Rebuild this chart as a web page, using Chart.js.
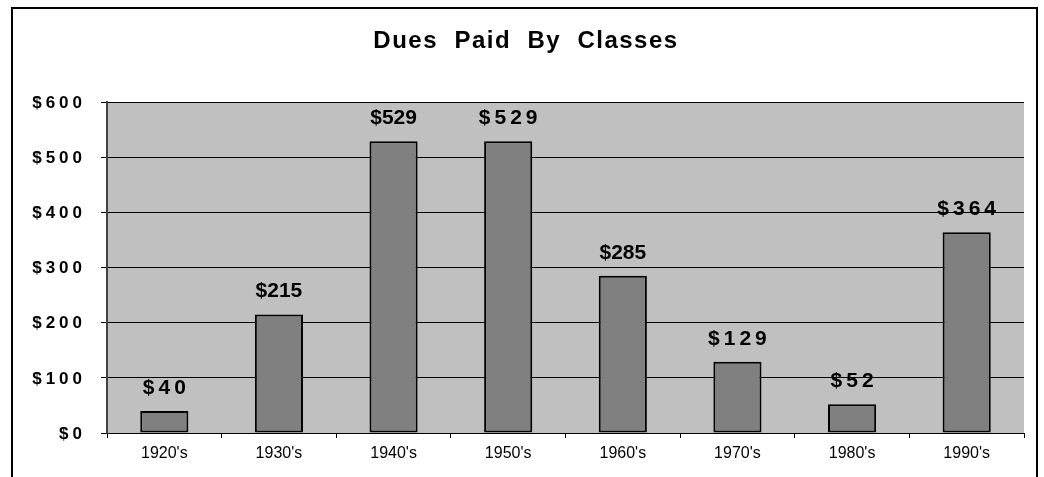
<!DOCTYPE html>
<html>
<head>
<meta charset="utf-8">
<title>Dues Paid By Classes</title>
<script src="https://cdn.jsdelivr.net/npm/chart.js@4"></script>
<style>
    body { margin: 0; background: #fff; }
    #wrap { width: 1044px; height: 477px; position: relative; }
</style>
</head>
<body>
<div id="wrap"><canvas id="duesChart"></canvas></div>
<script>
const decades = ["1920's", "1930's", "1940's", "1950's", "1960's", "1970's", "1980's", "1990's"];
const dues = [40, 215, 529, 529, 285, 129, 52, 364];
// which value labels are printed letter-spaced in the original
const spacedLabels = [true, false, false, true, false, true, true, true];
const chartTitle = 'Dues  Paid  By  Classes';

const FONT = '"Liberation Sans", Arial, sans-serif';

// Frame, plot background, title, y labels and value labels
const decorPlugin = {
    id: 'decor',
    beforeDraw: (chart) => {
        const { ctx, chartArea: { top, bottom, left, right } } = chart;
        ctx.save();
        ctx.fillStyle = '#c0c0c0';
        ctx.fillRect(left, top, right - left, bottom - top);
        ctx.restore();
    },
    afterDraw: (chart) => {
        const { ctx } = chart;
        ctx.save();
        // outer frame (bottom edge runs off the picture)
        ctx.strokeStyle = '#000';
        ctx.lineWidth = 2;
        ctx.beginPath();
        ctx.moveTo(12, 490);
        ctx.lineTo(12, 8);
        ctx.lineTo(1037, 8);
        ctx.lineTo(1037, 490);
        ctx.stroke();

        // title
        ctx.fillStyle = '#000';
        ctx.font = `bold 24px ${FONT}`;
        ctx.letterSpacing = '1.5px';
        ctx.textAlign = 'center';
        ctx.textBaseline = 'middle';
        ctx.fillText(chartTitle, 525 + 1, 41);

        // y tick labels
        const y = chart.scales.y;
        ctx.font = `bold 17px ${FONT}`;
        ctx.letterSpacing = '4px';
        ctx.textAlign = 'right';
        y.ticks.forEach(t => {
            ctx.fillText('$' + t.value, 82 + 4, y.getPixelForValue(t.value) + 1);
        });
        ctx.restore();
    },
    afterDatasetsDraw: (chart) => {
        const { ctx } = chart;
        const meta = chart.getDatasetMeta(0);
        ctx.save();
        ctx.fillStyle = '#000';
        ctx.font = `bold 21px ${FONT}`;
        ctx.textAlign = 'center';
        ctx.textBaseline = 'alphabetic';
        meta.data.forEach((bar, i) => {
            const sp = spacedLabels[i] ? 4 : 0;
            ctx.letterSpacing = sp + 'px';
            ctx.fillText('$' + dues[i], bar.x + sp / 2, bar.y - 17);
        });
        ctx.restore();
    }
};

const ctx = document.getElementById('duesChart').getContext('2d');
new Chart(ctx, {
    type: 'bar',
    data: {
        labels: decades,
        datasets: [{
            data: dues,
            backgroundColor: '#808080',
            borderColor: '#000',
            borderWidth: 2,
            borderSkipped: false,
            barPercentage: 0.42,
            categoryPercentage: 1
        }]
    },
    options: {
        responsive: true,
        maintainAspectRatio: false,
        animation: false,
        layout: {
            padding: { left: 0, right: 20, top: 102, bottom: 0 }
        },
        plugins: {
            legend: { display: false },
            tooltip: { enabled: false },
            title: { display: false }
        },
        scales: {
            x: {
                grid: {
                    offset: true,
                    drawOnChartArea: false,
                    drawTicks: true,
                    tickLength: 5,
                    color: '#000'
                },
                border: { color: '#000', width: 1 },
                ticks: {
                    color: '#000',
                    font: { family: FONT, size: 16 },
                    padding: 6,
                    maxRotation: 0
                },
                afterFit: (scale) => { scale.height = 44; }
            },
            y: {
                min: 0,
                max: 600,
                ticks: {
                    stepSize: 100,
                    display: false
                },
                grid: {
                    color: '#000',
                    drawTicks: true,
                    tickLength: 6
                },
                border: { color: '#404040', width: 2 },
                afterFit: (scale) => { scale.width = 107; }
            }
        }
    },
    plugins: [decorPlugin]
});
</script>
</body>
</html>
